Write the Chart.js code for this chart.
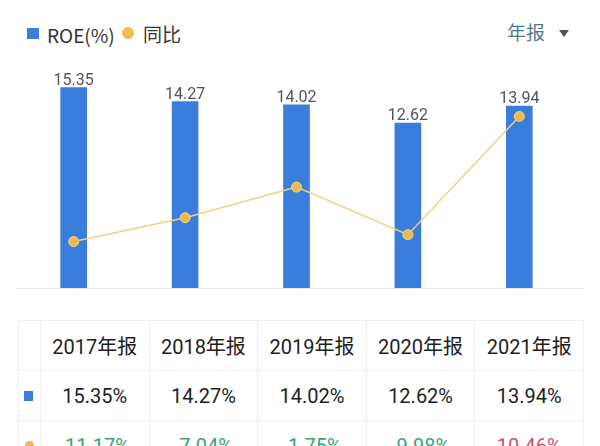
<!DOCTYPE html>
<html>
<head>
<meta charset="utf-8">
<script src="https://cdn.jsdelivr.net/npm/chart.js@4"></script>
<style>
  html, body { margin: 0; padding: 0; background: #fff; width: 600px; height: 446px; overflow: hidden; }
  body { position: relative; font-family: Roboto, "Noto Sans CJK SC", sans-serif; }
  .wrap { position: absolute; left: 0; top: 0; width: 600px; height: 300px; }
  .lg { position: absolute; font-size: 19px; color: #333; line-height: 1; font-family: "Noto Sans CJK SC", sans-serif; }
  .sq { position: absolute; left: 27px; top: 28px; width: 12px; height: 11px; background: #3b7ddd; }
  .dot { position: absolute; left: 122px; top: 27px; width: 12px; height: 12px; border-radius: 50%; background: #f1bd4c; }
  .period { position: absolute; left: 507px; top: 22px; font-size: 19px; color: #4f7890; font-family: "Noto Sans CJK SC", sans-serif; line-height: 1; }
  .tri { position: absolute; left: 559px; top: 30px; width: 0; height: 0; border-left: 5px solid transparent; border-right: 5px solid transparent; border-top: 7px solid #555; }
  table { position: absolute; left: 18px; top: 320px; border-collapse: collapse; table-layout: fixed; width: 565px; }
  td { border: 1px solid #eeeeee; height: 49px; padding: 0; text-align: center; font-size: 20px; color: #1e1e1e; }
  td.ic { position: relative; }
</style>
</head>
<body>
<div class="sq"></div>
<div class="lg" style="left:47px; top:25px;">ROE(%)</div>
<div class="dot"></div>
<div class="lg" style="left:143px; top:24px;">同比</div>
<div class="period">年报</div>
<div class="tri"></div>
<div class="wrap"><canvas id="c"></canvas></div>
<table id="tbl"></table>
<script>
const periods = ['2017年报', '2018年报', '2019年报', '2020年报', '2021年报'];
const roe = [15.35, 14.27, 14.02, 12.62, 13.94];
const yoy = [-11.17, -7.04, -1.75, -9.98, 10.46];

const barLabels = {
  id: 'barLabels',
  beforeDatasetsDraw(chart) {
    // baseline runs a bit wider than the plot area
    const ctx = chart.ctx;
    const y = Math.round(chart.chartArea.bottom) + 0.5;
    ctx.save();
    ctx.strokeStyle = '#e6e6e6';
    ctx.lineWidth = 1;
    ctx.beginPath();
    ctx.moveTo(16, y);
    ctx.lineTo(584, y);
    ctx.stroke();
    ctx.restore();
  },
  afterDatasetsDraw(chart) {
    const ctx = chart.ctx;
    const meta = chart.getDatasetMeta(1);
    ctx.save();
    ctx.font = '16px Roboto';
    ctx.fillStyle = '#50555f';
    ctx.textAlign = 'center';
    ctx.textBaseline = 'alphabetic';
    meta.data.forEach((bar, i) => {
      ctx.fillText(roe[i].toFixed(2), bar.x, bar.y - 3);
    });
    ctx.restore();
  }
};

new Chart(document.getElementById('c'), {
  data: {
    labels: periods,
    datasets: [
      {
        type: 'line', label: '同比', data: yoy, yAxisID: 'y2', order: 0,
        borderColor: '#f0d27c', borderWidth: 1.5, tension: 0,
        pointRadius: 5, pointBackgroundColor: '#f1b94a', pointBorderColor: '#f6d58c', pointBorderWidth: 1
      },
      {
        type: 'bar', label: 'ROE(%)', data: roe, yAxisID: 'y', order: 1,
        backgroundColor: '#3b7ddd', barThickness: 26
      }
    ]
  },
  options: {
    responsive: true,
    maintainAspectRatio: false,
    animation: false,
    layout: { padding: { left: 18, right: 25, top: 66, bottom: 12 } },
    plugins: { legend: { display: false }, tooltip: { enabled: false } },
    scales: {
      x: {
        ticks: { display: false },
        grid: { display: false, drawTicks: false },
        border: { display: false }
      },
      y: { display: false, min: 0, max: 17 },
      y2: { display: false, min: -19.2, max: 19.2 }
    }
  },
  plugins: [barLabels]
});

// table under the chart
const tbl = document.getElementById('tbl');
let html = '<colgroup><col style="width:22px">' + periods.map(() => '<col style="width:108.6px">').join('') + '</colgroup>';
html += '<tr><td class="ic"></td>' + periods.map(p => '<td>' + p + '</td>').join('') + '</tr>';
html += '<tr><td class="ic"><div style="position:absolute;left:5px;top:20px;width:9px;height:10px;background:#3b7ddd"></div></td>' +
  roe.map(v => '<td>' + v.toFixed(2) + '%</td>').join('') + '</tr>';
html += '<tr><td class="ic"><div style="position:absolute;left:6px;top:20px;width:9px;height:9px;border-radius:50%;background:#f1b94a"></div></td>' +
  yoy.map(v => '<td style="color:' + (v < 0 ? '#35a672' : '#c9546b') + '">' + v.toFixed(2) + '%</td>').join('') + '</tr>';
tbl.innerHTML = html;
</script>
</body>
</html>
